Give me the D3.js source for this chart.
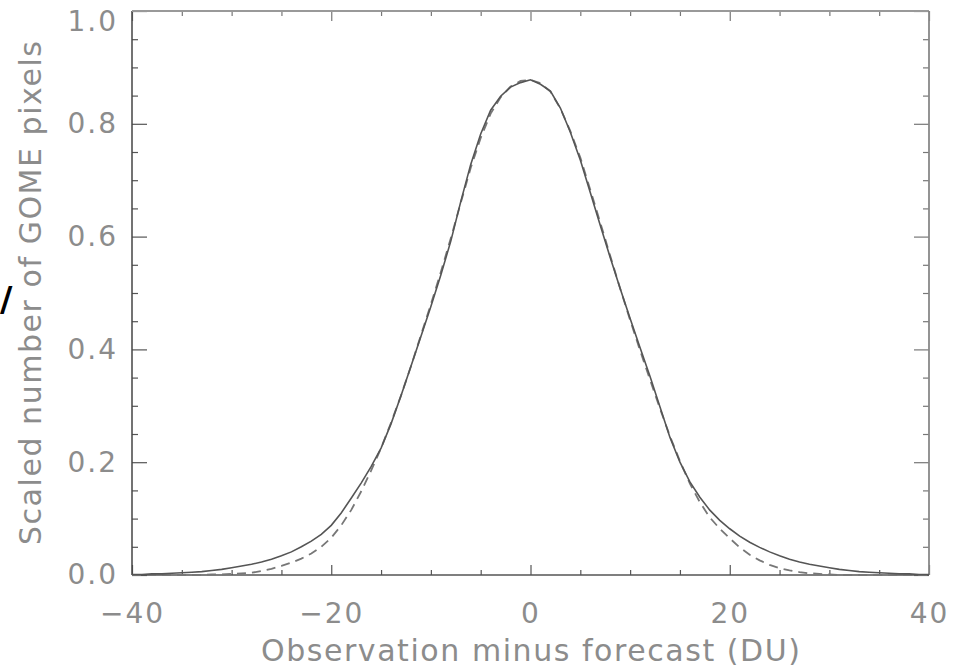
<!DOCTYPE html>
<html>
<head>
<meta charset="utf-8">
<script src="https://cdn.jsdelivr.net/npm/d3@7"></script>
<style>
  html, body { margin: 0; padding: 0; background: #fff; }
  svg { display: block; }
</style>
</head>
<body>
<svg id="chart" width="959" height="672"></svg>
<script>
// ---- data ----
const xValues = [-40,-39,-38,-37,-36,-35,-34,-33,-32,-31,-30,-29,-28,-27,-26,-25,-24,-23,-22,-21,
  -20,-19,-18,-17,-16,-15,-14,-13,-12,-11,-10,-9,-8,-7,-6,-5,-4,-3,-2,-1,
  0,1,2,3,4,5,6,7,8,9,10,11,12,13,14,15,16,17,18,19,
  20,21,22,23,24,25,26,27,28,29,30,31,32,33,34,35,36,37,38,39,40];

// solid line: observed histogram
const observed = [0.001,0.001,0.002,0.002,0.003,0.004,0.005,0.006,0.008,0.010,0.013,0.016,0.019,0.023,0.028,0.034,0.041,0.050,0.060,0.072,
  0.088,0.110,0.136,0.163,0.192,0.225,0.268,0.318,0.370,0.423,0.476,0.532,0.592,0.662,0.728,0.782,0.824,0.849,0.865,0.873,
  0.878,0.870,0.858,0.828,0.785,0.736,0.678,0.620,0.563,0.508,0.455,0.403,0.352,0.298,0.244,0.200,0.165,0.138,0.115,0.097,
  0.082,0.069,0.058,0.049,0.041,0.034,0.028,0.023,0.019,0.016,0.013,0.010,0.008,0.006,0.005,0.004,0.003,0.002,0.002,0.001,0.001];

// dashed line: fitted distribution
const fitted = [0,0,0,0,0,0,0,0,0.001,0.001,0.002,0.003,0.004,0.007,0.011,0.016,0.022,0.029,0.038,0.050,
  0.066,0.088,0.115,0.148,0.185,0.225,0.270,0.318,0.370,0.425,0.480,0.537,0.597,0.660,0.722,0.775,0.818,0.847,0.866,0.876,
  0.878,0.872,0.857,0.827,0.787,0.740,0.683,0.625,0.566,0.508,0.452,0.398,0.346,0.295,0.246,0.202,0.162,0.129,0.102,0.082,
  0.065,0.049,0.036,0.026,0.018,0.012,0.008,0.005,0.003,0.002,0.001,0,0,0,0,0,0,0,0,0,0];

const xMajorTicks = [-40,-20,0,20,40];
const xMinorTicks = [-35,-30,-25,-15,-10,-5,5,10,15,25,30,35];
const yMajorTicks = [0.0,0.2,0.4,0.6,0.8,1.0];
const yMinorTicks = [0.05,0.1,0.15,0.25,0.3,0.35,0.45,0.5,0.55,0.65,0.7,0.75,0.85,0.9,0.95];
const xTitle = "Observation minus forecast (DU)";
const yTitle = "Scaled number of GOME pixels";

// ---- layout ----
const pLeft = 132, pRight = 929, pTop = 11, pBottom = 575;
const svg = d3.select("#chart");
const x = d3.scaleLinear().domain([-40, 40]).range([pLeft, pRight]);
const y = d3.scaleLinear().domain([0, 1]).range([pBottom, pTop]);

const labelColor = "#8c8c8c";
const axisColor = "#555";
const font = "'DejaVu Sans', sans-serif";

function styleAxis(g, color) {
  g.select(".domain").remove();
  g.selectAll(".tick line").attr("stroke", color).attr("stroke-width", 1.2);
  g.selectAll(".tick text")
    .attr("fill", labelColor)
    .style("font-family", font)
    .style("font-size", "28px")
    .style("letter-spacing", "2px");
}

// bottom axis (inward ticks)
svg.append("g").attr("transform", `translate(0,${pBottom})`)
  .call(d3.axisBottom(x).tickValues(xMajorTicks).tickSize(-10).tickPadding(28)
    .tickFormat(d3.format("d")))
  .call(g => styleAxis(g, axisColor))
  .call(g => g.selectAll(".tick text").attr("dy", "0.71em"));
svg.append("g").attr("transform", `translate(0,${pBottom})`)
  .call(d3.axisBottom(x).tickValues(xMinorTicks).tickSize(-5).tickFormat(""))
  .call(g => styleAxis(g, axisColor));

// top axis
svg.append("g").attr("transform", `translate(0,${pTop})`)
  .call(d3.axisTop(x).tickValues(xMajorTicks).tickSize(-10).tickFormat(""))
  .call(g => styleAxis(g, "#777"));
svg.append("g").attr("transform", `translate(0,${pTop})`)
  .call(d3.axisTop(x).tickValues(xMinorTicks).tickSize(-5).tickFormat(""))
  .call(g => styleAxis(g, "#777"));

// left axis
svg.append("g").attr("transform", `translate(${pLeft},0)`)
  .call(d3.axisLeft(y).tickValues(yMajorTicks).tickSize(-15).tickPadding(14)
    .tickFormat(d3.format(".1f")))
  .call(g => styleAxis(g, axisColor))
  .call(g => g.selectAll(".tick text").filter(d => d === 1).attr("dy", "0.71em"));
svg.append("g").attr("transform", `translate(${pLeft},0)`)
  .call(d3.axisLeft(y).tickValues(yMinorTicks).tickSize(-6).tickFormat(""))
  .call(g => styleAxis(g, axisColor));

// right axis
svg.append("g").attr("transform", `translate(${pRight},0)`)
  .call(d3.axisRight(y).tickValues(yMajorTicks).tickSize(-15).tickFormat(""))
  .call(g => styleAxis(g, "#777"));
svg.append("g").attr("transform", `translate(${pRight},0)`)
  .call(d3.axisRight(y).tickValues(yMinorTicks).tickSize(-6).tickFormat(""))
  .call(g => styleAxis(g, "#777"));

// frame
svg.append("line").attr("x1", pLeft).attr("x2", pLeft).attr("y1", pTop).attr("y2", pBottom)
  .attr("stroke", "#444").attr("stroke-width", 1.5);
svg.append("line").attr("x1", pLeft).attr("x2", pRight).attr("y1", pBottom).attr("y2", pBottom)
  .attr("stroke", "#555").attr("stroke-width", 1.5);
svg.append("line").attr("x1", pLeft).attr("x2", pRight).attr("y1", pTop).attr("y2", pTop)
  .attr("stroke", "#999").attr("stroke-width", 2);
svg.append("line").attr("x1", pRight).attr("x2", pRight).attr("y1", pTop).attr("y2", pBottom)
  .attr("stroke", "#888").attr("stroke-width", 1.8);

// curves
const line = d3.line().x((d, i) => x(xValues[i])).y(d => y(d));
svg.append("path").datum(fitted)
  .attr("d", line).attr("fill", "none")
  .attr("stroke", "#777").attr("stroke-width", 1.8)
  .attr("stroke-dasharray", "9,6");
svg.append("path").datum(observed)
  .attr("d", line).attr("fill", "none")
  .attr("stroke", "#555").attr("stroke-width", 1.6);

// titles
svg.append("text")
  .attr("x", (pLeft + pRight) / 2).attr("y", 661)
  .attr("text-anchor", "middle")
  .attr("fill", labelColor)
  .attr("textLength", 539).attr("lengthAdjust", "spacing")
  .style("font-family", font).style("font-size", "30px")
  .text(xTitle);

svg.append("text")
  .attr("transform", `translate(41,${(pTop + pBottom) / 2}) rotate(-90)`)
  .attr("text-anchor", "middle")
  .attr("fill", labelColor)
  .attr("textLength", 504).attr("lengthAdjust", "spacing")
  .style("font-family", font).style("font-size", "30px")
  .text(yTitle);

// stray black slash visible at the left edge of the picture
svg.append("text")
  .attr("x", 0).attr("y", 311)
  .attr("fill", "#000")
  .style("font-family", font).style("font-size", "34px").style("font-weight", "bold")
  .text("/");
</script>
</body>
</html>
